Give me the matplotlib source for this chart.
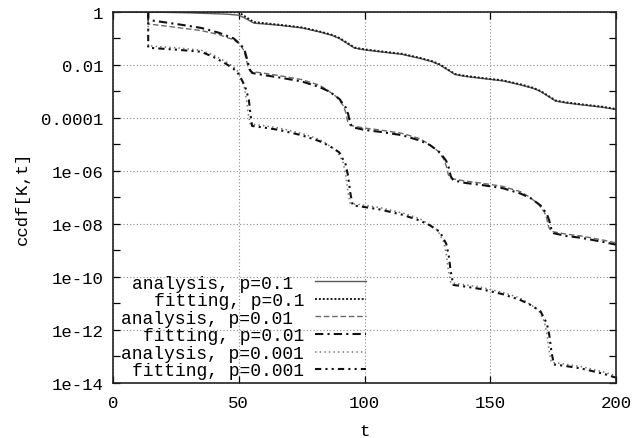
import numpy as np
import matplotlib
matplotlib.use("Agg")
import matplotlib.pyplot as plt
from matplotlib.ticker import FixedLocator, FixedFormatter

plt.rcParams['font.family'] = ['Liberation Mono', 'DejaVu Sans Mono']
plt.rcParams['font.size'] = 12.5

# log10 of ccdf[K,t], read per curve
t_01 = [0, 14, 30, 45, 50, 53, 56, 66, 75, 82, 87, 90, 93, 96, 100, 106, 115, 122, 127,
        130, 133, 136, 140, 146, 155, 162, 167, 170, 173, 176, 180, 186, 195, 200]
ana_01 = [0, 0, -0.03, -0.08, -0.12, -0.26, -0.42, -0.5, -0.6, -0.75, -0.88, -1.0, -1.18,
          -1.36, -1.43, -1.5, -1.6, -1.75, -1.88, -2.0, -2.18, -2.36, -2.43, -2.5, -2.6,
          -2.75, -2.88, -3.0, -3.18, -3.36, -3.43, -3.5, -3.6, -3.68]
fit_01 = [0, 0, 0, 0, -0.01, -0.2, -0.38, -0.48, -0.58, -0.73, -0.86, -0.98, -1.16,
          -1.34, -1.41, -1.48, -1.58, -1.73, -1.86, -1.98, -2.16, -2.34, -2.41, -2.48,
          -2.58, -2.73, -2.86, -2.98, -3.16, -3.34, -3.41, -3.48, -3.58, -3.66]

t_ana_001 = [14, 14, 25, 35, 42, 48, 50.5, 52, 53, 53.8, 54.5, 60, 66, 75, 82, 85, 89, 91.5,
             92.5, 93.3, 94.3, 100, 106, 115, 122, 125, 129, 131.5, 132.5, 133.3, 134.3,
             140, 146, 155, 162, 165, 169, 171.5, 172.5, 173.3, 174.3, 180, 186, 195, 200]
ana_001 = [0, -0.45, -0.58, -0.7, -0.85, -1.05, -1.22, -1.45, -1.8, -2.1, -2.24, -2.31, -2.4,
           -2.55, -2.76, -2.93, -3.21, -3.53, -3.78, -4.13, -4.28, -4.38, -4.45, -4.58,
           -4.78, -4.95, -5.23, -5.55, -5.81, -6.13, -6.28, -6.38, -6.45, -6.58, -6.78,
           -6.95, -7.23, -7.55, -7.81, -8.13, -8.28, -8.38, -8.45, -8.61, -8.71]
t_fit_001 = [14, 14, 25, 35, 42, 48, 51, 52.5, 53.5, 54.3, 55.3, 60, 66, 75, 82, 86, 90, 92.5,
             93.5, 94.3, 95.3, 100, 106, 115, 122, 126, 130, 132.5, 133.5, 134.3, 135.3,
             140, 146, 155, 162, 166, 170, 172.5, 173.5, 174.3, 175.3, 180, 186, 195, 200]
fit_001 = [0, -0.3, -0.45, -0.6, -0.78, -1.0, -1.25, -1.5, -1.85, -2.15, -2.3, -2.38, -2.47,
           -2.62, -2.83, -3.0, -3.28, -3.6, -3.85, -4.2, -4.35, -4.45, -4.52, -4.65, -4.85,
           -5.02, -5.3, -5.62, -5.88, -6.2, -6.35, -6.45, -6.52, -6.65, -6.85, -7.02, -7.3,
           -7.62, -7.88, -8.2, -8.35, -8.45, -8.52, -8.68, -8.78]

t_ana_0001 = [14, 14, 25, 35, 40, 45, 48, 50, 52, 53, 53.8, 54.5, 60, 66, 75, 82, 85, 89, 91.5,
              92.5, 93.3, 94.3, 100, 106, 115, 122, 125, 129, 131.5, 132.5, 133.3, 134.3,
              140, 146, 155, 162, 165, 169, 171.5, 172.5, 173.3, 174.3, 180, 186, 195, 200]
ana_0001 = [0, -1.28, -1.35, -1.44, -1.63, -1.88, -2.08, -2.28, -2.75, -3.25, -3.85, -4.22,
            -4.29, -4.38, -4.58, -4.8, -4.98, -5.23, -5.68, -6.13, -6.73, -7.22, -7.29, -7.38,
            -7.58, -7.8, -7.98, -8.23, -8.68, -9.13, -9.73, -10.22, -10.29, -10.38, -10.58,
            -10.8, -10.98, -11.23, -11.68, -12.13, -12.73, -13.22, -13.29, -13.38, -13.58,
            -13.73]
t_fit_0001 = [14, 14, 25, 35, 40, 45, 48, 50, 52.5, 54, 54.7, 55.3, 60, 66, 75, 82, 86, 90,
              92.5, 93.5, 94.3, 95.3, 100, 106, 115, 122, 126, 130, 132.5, 133.5, 134.3,
              135.3, 140, 146, 155, 162, 166, 170, 172.5, 173.5, 174.3, 175.3, 180, 186, 195,
              200]
fit_0001 = [0, -1.35, -1.42, -1.5, -1.7, -1.96, -2.15, -2.35, -2.8, -3.3, -3.9, -4.3, -4.36,
            -4.45, -4.65, -4.87, -5.05, -5.3, -5.75, -6.2, -6.8, -7.3, -7.36, -7.45, -7.65,
            -7.87, -8.05, -8.3, -8.75, -9.2, -9.8, -10.3, -10.36, -10.45, -10.65, -10.87,
            -11.05, -11.3, -11.75, -12.2, -12.8, -13.3, -13.36, -13.45, -13.65, -13.8]

curves = [
    ("analysis, p=0.1 ", t_01, ana_01, '#5a5a5a', '-', 1.0),
    ("fitting, p=0.1", t_01, fit_01, '#1a1a1a', (0, (1, 1)), 1.4),
    ("analysis, p=0.01 ", t_ana_001, ana_001, '#6a6a6a', (0, (4, 2)), 1.0),
    ("fitting, p=0.01", t_fit_001, fit_001, '#111111', (0, (4, 2, 1, 2)), 1.5),
    ("analysis, p=0.001", t_ana_0001, ana_0001, '#7a7a7a', (0, (1, 2)), 1.1),
    ("fitting, p=0.001", t_fit_0001, fit_0001, '#111111', (0, (3, 2, 1, 2, 1, 2)), 1.5),
]

ytick_vals = [1, 1e-2, 1e-4, 1e-6, 1e-8, 1e-10, 1e-12, 1e-14]
ytick_labels = ['1', '0.01', '0.0001', '1e-06', '1e-08', '1e-10', '1e-12', '1e-14']
yminor_vals = [1e-1, 1e-3, 1e-5, 1e-7, 1e-9, 1e-11, 1e-13]
xtick_vals = [0, 50, 100, 150, 200]

fig = plt.figure(figsize=(6.41, 4.39), dpi=100)
ax = fig.add_axes([0.1763, 0.1253, 0.7847, 0.8451])

for label, t, v, c, ls, lw in curves:
    ax.plot(t, np.power(10.0, v), color=c, linestyle=ls, linewidth=lw, label=label)

ax.set_yscale('log')
ax.set_xlim(0, 200)
ax.set_ylim(1e-14, 1)
ax.set_xticks(xtick_vals)
ax.set_xticklabels([str(x) for x in xtick_vals])
ax.yaxis.set_major_locator(FixedLocator(ytick_vals))
ax.yaxis.set_major_formatter(FixedFormatter(ytick_labels))
ax.yaxis.set_minor_locator(FixedLocator(yminor_vals))
ax.yaxis.set_minor_formatter(FixedFormatter([''] * len(yminor_vals)))

ax.tick_params(which='both', direction='in', top=True, right=True, length=5, width=0.9)
ax.tick_params(axis='y', pad=7)
ax.tick_params(axis='x', pad=9)
ax.grid(True, which='major', color='#8a8a8a', linestyle=(0, (1, 2)), linewidth=0.8)
for s in ax.spines.values():
    s.set_linewidth(1.2)
    s.set_color('#222222')

ax.set_xlabel('t', labelpad=9)
ax.set_ylabel('ccdf[K,t]', labelpad=8)

ax.legend(loc='lower right', bbox_to_anchor=(0.513, -0.005), frameon=False, markerfirst=False,
          fontsize=13, handlelength=2.8, handletextpad=0.6, labelspacing=0.03,
          borderpad=0.3, borderaxespad=0.0)

fig.savefig('out.png', dpi=100)
